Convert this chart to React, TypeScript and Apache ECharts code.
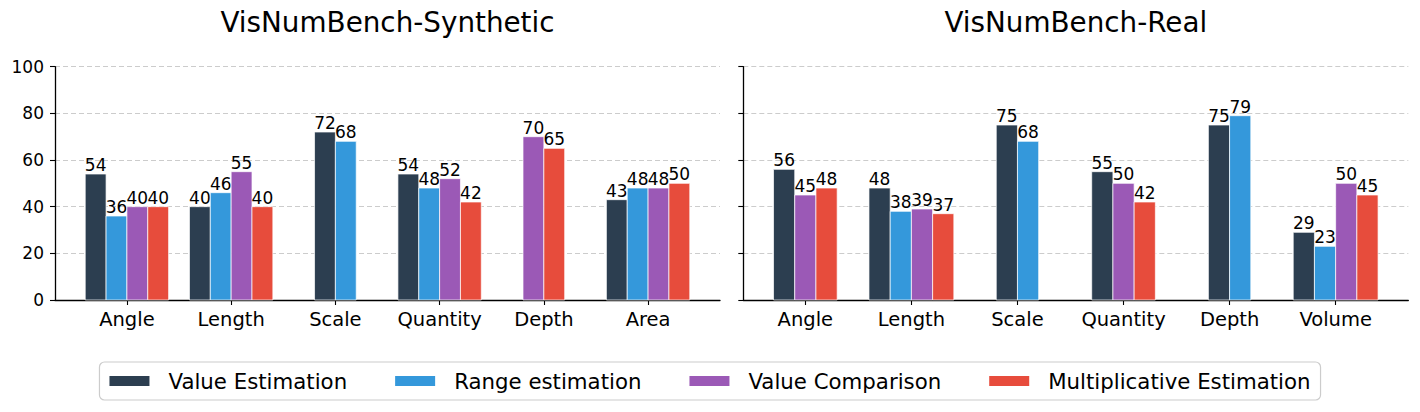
import React, { useEffect, useRef } from "react";
import * as echarts from "echarts";

const categoriesSynthetic = ["Angle", "Length", "Scale", "Quantity", "Depth", "Area"];
const categoriesReal = ["Angle", "Length", "Scale", "Quantity", "Depth", "Volume"];
const seriesNames = ["Value Estimation", "Range estimation", "Value Comparison", "Multiplicative Estimation"];
const seriesColors = ["#2c3e50", "#3498db", "#9b59b6", "#e74c3c"];

const synValueEstimation = [54, 40, 72, 54, null, 43];
const synRangeEstimation = [36, 46, 68, 48, null, 48];
const synValueComparison = [40, 55, null, 52, 70, 48];
const synMultiplicative = [40, 40, null, 42, 65, 50];

const realValueEstimation = [56, 48, 75, 55, 75, 29];
const realRangeEstimation = [null, 38, 68, null, 79, 23];
const realValueComparison = [45, 39, null, 50, null, 50];
const realMultiplicative = [48, 37, null, 42, null, 45];

const yTickValues = [0, 20, 40, 60, 80, 100];
const titles = ["VisNumBench-Synthetic", "VisNumBench-Real"];

const BAR_W = 0.2;
const FONT = "DejaVu Sans";

function buildData(all: (number | null)[][], s: number) {
  const out: number[][] = [];
  const n = all[0].length;
  for (let i = 0; i < n; i++) {
    const present: number[] = [];
    all.forEach((arr, k) => {
      if (arr[i] !== null && arr[i] !== undefined) present.push(k);
    });
    const pos = present.indexOf(s);
    if (pos < 0) continue;
    const off = pos - (present.length - 1) / 2;
    out.push([i, all[s][i] as number, off]);
  }
  return out;
}

function makeRenderItem(color: string) {
  return (params: any, api: any) => {
    const i = api.value(0);
    const v = api.value(1);
    const off = api.value(2);
    const x0 = i + off * BAR_W - BAR_W / 2;
    const x1 = x0 + BAR_W;
    const p0 = api.coord([x0, v]);
    const p1 = api.coord([x1, 0]);
    return {
      type: "group",
      children: [
        {
          type: "rect",
          shape: { x: p0[0], y: p0[1], width: p1[0] - p0[0], height: p1[1] - p0[1] },
          style: { fill: color, stroke: "#ffffff", lineWidth: 0.7 },
        },
        {
          type: "text",
          x: (p0[0] + p1[0]) / 2,
          y: p0[1] - 0.5,
          style: {
            text: String(v),
            fill: "#000",
            font: `17px "${FONT}"`,
            align: "center",
            verticalAlign: "bottom",
          },
        },
      ],
    };
  };
}

export default function App() {
  const ref = useRef<HTMLDivElement>(null);
  useEffect(() => {
    if (!ref.current) return;
    const chart = echarts.init(ref.current, undefined, { renderer: "svg" });
    const synAll = [synValueEstimation, synRangeEstimation, synValueComparison, synMultiplicative];
    const realAll = [realValueEstimation, realRangeEstimation, realValueComparison, realMultiplicative];
    const panels = [
      { cats: categoriesSynthetic, all: synAll, left: 55, min: -0.69, max: 5.69 },
      { cats: categoriesReal, all: realAll, left: 743.3, min: -0.585, max: 5.685 },
    ];
    const top = 66.7;
    const height = 233.3;
    const width = 665;

    const grid = panels.map((p) => ({ left: p.left, top, width, height, containLabel: false }));
    const xAxis = panels.map((p, gi) => ({
      type: "value",
      gridIndex: gi,
      min: p.min,
      max: p.max,
      axisLine: { show: true, onZero: false, lineStyle: { color: "#000", width: 1.3 } },
      axisTick: { show: true, length: 5, customValues: [0, 1, 2, 3, 4, 5], lineStyle: { color: "#000", width: 1.1 } },
      axisLabel: {
        show: true,
        customValues: [0, 1, 2, 3, 4, 5],
        formatter: (val: number) => p.cats[Math.round(val)] ?? "",
        color: "#000",
        fontSize: 19.5,
        fontFamily: FONT,
        margin: 9,
      },
      splitLine: { show: false },
    }));
    const yAxis = panels.map((p, gi) => ({
      type: "value",
      gridIndex: gi,
      min: yTickValues[0],
      max: yTickValues[yTickValues.length - 1],
      interval: 20,
      axisLine: { show: true, onZero: false, lineStyle: { color: "#000", width: 1.3 } },
      axisTick: { show: true, length: 5, lineStyle: { color: "#000", width: 1.1 } },
      axisLabel: {
        show: gi === 0,
        color: "#000",
        fontSize: 17,
        fontFamily: FONT,
        margin: 11,
      },
      splitLine: { show: true, lineStyle: { color: "#cccccc", type: [5, 3], width: 1 } },
    }));

    const series: any[] = [];
    panels.forEach((p, gi) => {
      seriesNames.forEach((name, s) => {
        series.push({
          type: "custom",
          name,
          xAxisIndex: gi,
          yAxisIndex: gi,
          coordinateSystem: "cartesian2d",
          itemStyle: { color: seriesColors[s] },
          encode: { x: 0, y: 1 },
          clip: false,
          renderItem: makeRenderItem(seriesColors[s]),
          data: buildData(p.all, s),
          z: 3,
        });
      });
    });

    chart.setOption({
      animation: false,
      backgroundColor: "#ffffff",
      textStyle: { fontFamily: FONT },
      grid,
      xAxis,
      yAxis,
      series,
      legend: {
        data: seriesNames,
        top: 362,
        left: "center",
        icon: "rect",
        itemWidth: 40,
        itemHeight: 10,
        itemGap: 48,
        borderColor: "#cccccc",
        borderWidth: 1.2,
        borderRadius: 5,
        padding: [8.5, 10],
        textStyle: { fontSize: 21.3, color: "#000", fontFamily: FONT, padding: [0, 0, 0, 14] },
      },
      graphic: panels.map((p, gi) => ({
        type: "text",
        x: p.left + width / 2,
        y: 22.5,
        style: {
          text: titles[gi],
          font: `27.8px "${FONT}"`,
          fill: "#000",
          align: "center",
          verticalAlign: "middle",
        },
      })),
    });
    return () => chart.dispose();
  }, []);
  return (
    <div
      ref={ref}
      style={{ position: "fixed", left: 0, top: 0, width: 1420, height: 412, background: "#fff" }}
    />
  );
}
